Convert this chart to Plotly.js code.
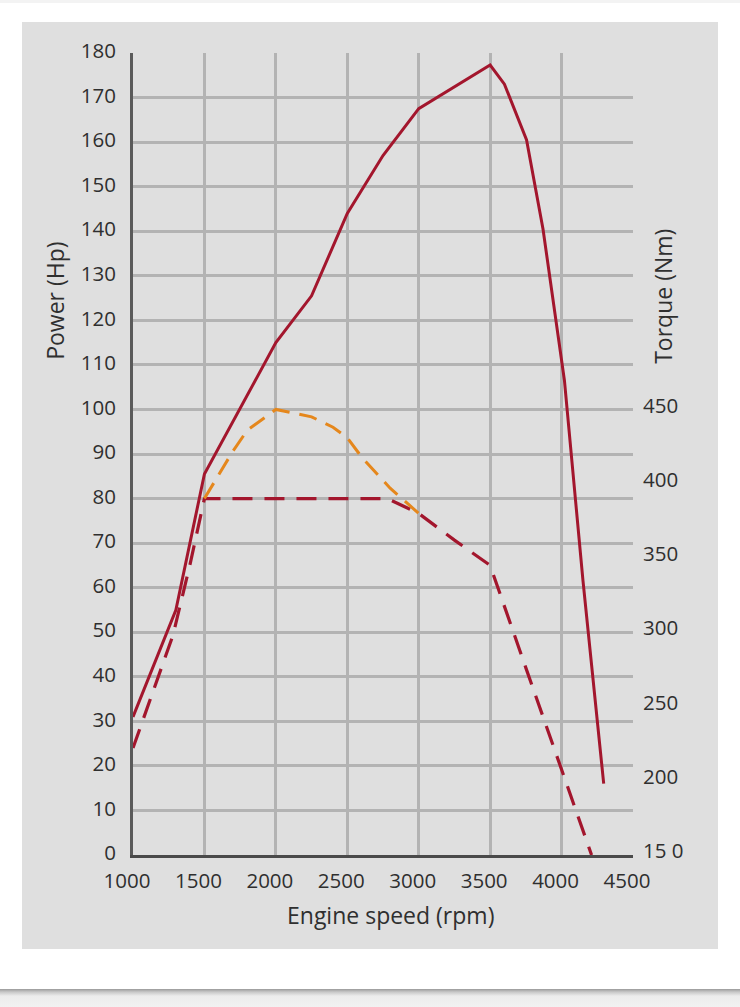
<!DOCTYPE html>
<html>
<head>
<meta charset="utf-8">
<script src="https://cdn.plot.ly/plotly-3.0.1.min.js"></script>
<style>
  html, body { margin: 0; padding: 0; background: #ffffff; width: 740px; height: 1007px; overflow: hidden; }
  #topline { position: absolute; left: 0; top: 0; width: 740px; height: 3px; background: #f3f3f3; }
  #chart { position: absolute; left: 22px; top: 22px; width: 696px; height: 927px; }
  #bottomstrip { position: absolute; left: 0; top: 989px; width: 740px; height: 18px;
    background: linear-gradient(to bottom, #9a9a9a 0px, #c8c8c8 3px, #ececec 7px, #f2f2f2 18px); }
</style>
</head>
<body>
<div id="topline"></div>
<div id="chart"></div>
<div id="bottomstrip"></div>
<script>
// ---- data ----
const powerRpm = [1000, 1300, 1500, 2000, 2250, 2500, 2750, 3000, 3500, 3600, 3755, 3870, 4020, 4150, 4295];
const powerHp  = [31, 55, 85.5, 115, 125.5, 144, 157, 167.5, 177.3, 173, 160.5, 140.5, 106.5, 61.5, 16];

const torqueRpm = [1000, 1280, 1400, 1500, 2780, 3000, 3250, 3500, 3750, 4000, 4210];
const torqueNm  = [222, 298, 346, 390, 390, 380, 362, 345, 276, 208, 150];

const torque2Rpm = [1500, 1600, 1700, 1800, 1900, 2000, 2100, 2250, 2400, 2500, 2600, 2800, 3000];
const torque2Nm  = [390, 406, 422, 436, 443, 450, 448, 445, 438, 431, 418, 397, 380];

const xTicks = [1000, 1500, 2000, 2500, 3000, 3500, 4000, 4500];
const powerTicks = [0, 10, 20, 30, 40, 50, 60, 70, 80, 90, 100, 110, 120, 130, 140, 150, 160, 170, 180];
const torqueTicks = [150, 200, 250, 300, 350, 400, 450];
const torqueTickText = ["15 0", "200", "250", "300", "350", "400", "450"];

const xTitle = "Engine speed (rpm)";
const powerTitle = "Power (Hp)";
const torqueTitle = "Torque (Nm)";

// ---- styles ----
const FONT = "Open Sans, Noto Sans, DejaVu Sans, sans-serif";
const TXT = "#2f2f2f";
const RED = "#a3162d";
const ORANGE = "#e5871c";
const GRID = "#b3b3b3";
const TICKSIZE = 20.5;
const TITLESIZE = 23;

const traces = [
  { x: torqueRpm, y: torqueNm, yaxis: "y2", mode: "lines", name: "Torque",
    line: { color: RED, width: 3.2, dash: "20px,12px" } },
  { x: torque2Rpm, y: torque2Nm, yaxis: "y2", mode: "lines", name: "Torque 2",
    line: { color: ORANGE, width: 3, dash: "18px,10px" } },
  { x: powerRpm, y: powerHp, yaxis: "y", mode: "lines", name: "Power",
    line: { color: RED, width: 3 } }
];

const layout = {
  width: 696, height: 927,
  margin: { l: 111, r: 85, t: 31, b: 94 },
  paper_bgcolor: "#dfdfdf",
  plot_bgcolor: "#dfdfdf",
  showlegend: false,
  font: { family: FONT, color: TXT, size: TICKSIZE },
  xaxis: {
    range: [1000, 4500], tickvals: xTicks, ticktext: xTicks.map(String),
    showgrid: true, gridcolor: GRID, gridwidth: 3,
    showline: true, linecolor: "#4a4a4a", linewidth: 3,
    zeroline: false, ticks: "", ticklabelstandoff: 5, ticklabelshift: -6,
    tickfont: { family: FONT, size: TICKSIZE, color: TXT }
  },
  yaxis: {
    range: [0, 180], tickvals: powerTicks, ticktext: powerTicks.map(String),
    showgrid: true, gridcolor: GRID, gridwidth: 3,
    showline: true, linecolor: "#5a5a5a", linewidth: 3,
    zeroline: false, ticks: "", ticklabelstandoff: 10, ticklabelshift: -2,
    tickfont: { family: FONT, size: TICKSIZE, color: TXT }
  },
  yaxis2: {
    overlaying: "y", side: "right",
    range: [150, 690], tickvals: torqueTicks, ticktext: torqueTickText,
    showgrid: false, showline: false, zeroline: false,
    ticks: "", ticklabelstandoff: 9, ticklabelshift: -4,
    tickfont: { family: FONT, size: TICKSIZE, color: TXT }
  },
  annotations: [
    { text: xTitle, xref: "paper", yref: "paper", x: 0.514, y: -0.0748,
      xanchor: "center", yanchor: "middle", showarrow: false,
      font: { family: FONT, size: TITLESIZE, color: TXT } },
    { text: powerTitle, xref: "paper", yref: "paper", x: -0.156, y: 0.691,
      xanchor: "center", yanchor: "middle", showarrow: false, textangle: -90,
      font: { family: FONT, size: TITLESIZE, color: TXT } },
    { text: torqueTitle, xref: "paper", yref: "paper", x: 1.06, y: 0.696,
      xanchor: "center", yanchor: "middle", showarrow: false, textangle: -90,
      font: { family: FONT, size: TITLESIZE, color: TXT } }
  ]
};

Plotly.newPlot("chart", traces, layout, { displayModeBar: false, staticPlot: true });
</script>
</body>
</html>
